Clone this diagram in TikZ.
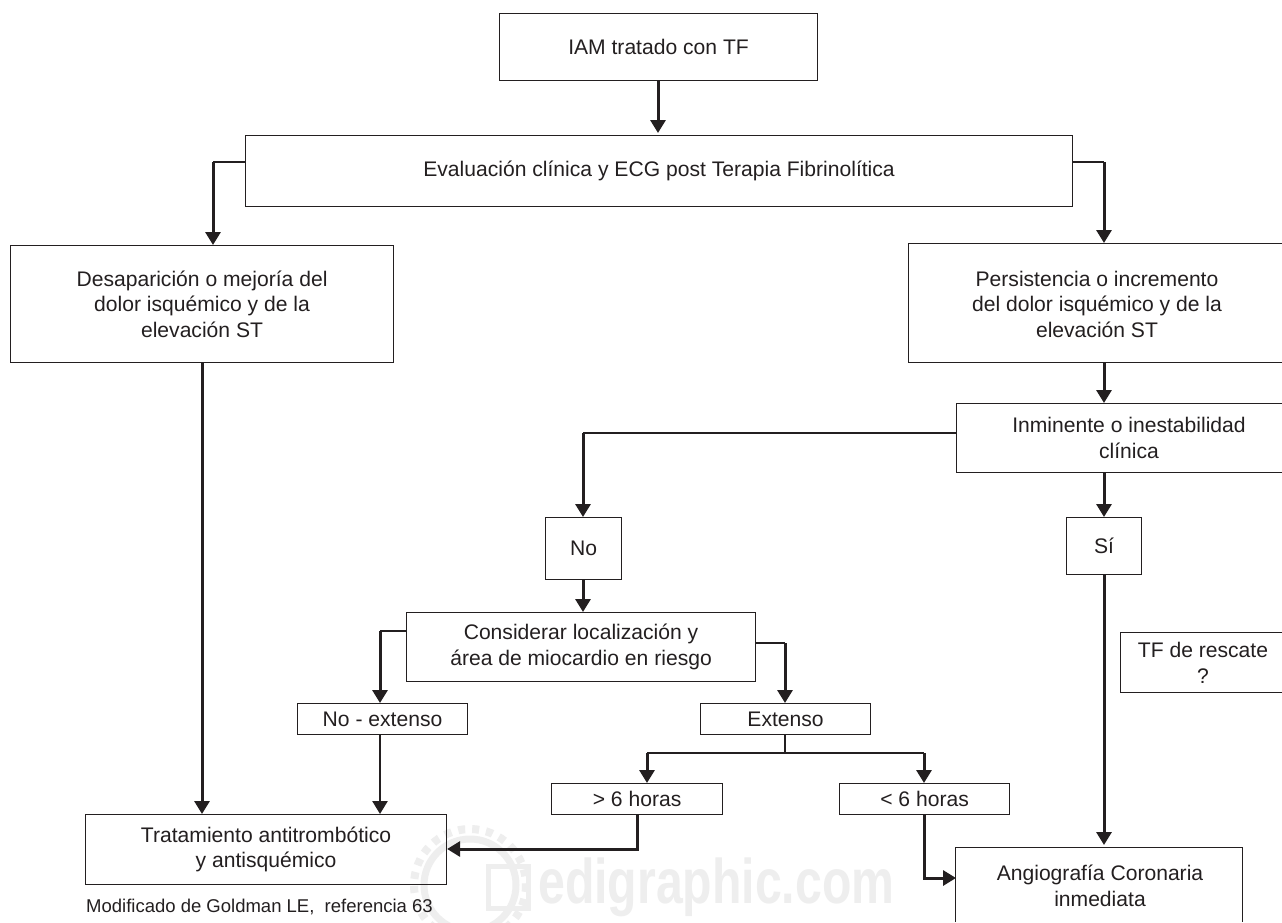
\documentclass[tikz,border=0pt]{standalone}
\usepackage{graphicx}
\usepackage{fontspec}
\setmainfont{Liberation Sans}
\usetikzlibrary{arrows.meta}
\definecolor{ink}{HTML}{231F20}
\definecolor{wm}{HTML}{EEEEEE}
\tikzset{
  x=1pt,y=-1pt,
  boxn/.style={draw=ink,line width=1.1pt,align=center,inner sep=0pt,text=ink,font=\fontsize{21.1}{25.5}\selectfont},
  txtn/.style={align=center,inner sep=0pt,text=ink,font=\fontsize{21.1}{25.5}\selectfont},
  openb/.style={draw=ink,line width=1.1pt},
  arr/.style={draw=ink,line width=3pt,-{Triangle[length=13pt,width=15pt]}},
  thinl/.style={draw=ink,line width=1.7pt},
}
\newcommand{\bx}[6]{\node[boxn,minimum width=#4-#2,minimum height=#5-#3,anchor=north west] (#1) at (#2,#3) {#6};}
\begin{document}
\begin{tikzpicture}
\useasboundingbox (0,0) rectangle (1282,922);
\fill[white] (0,0) rectangle (1282,922);
% watermark
\node[text=wm,font=\bfseries\fontsize{63}{63}\selectfont,anchor=base west,inner sep=0pt] (wmark) at (538,903) {\scalebox{0.765}[1]{edigraphic.com}};
\draw[wm,line width=7pt] (470,885) circle (46);
\draw[wm,line width=8pt,dash pattern=on 7pt off 7pt] (470,885) circle (56);
\draw[wm,line width=5pt] (488,866) rectangle (528,908);
% boxes
\bx{iam}{499}{13}{817}{80}{IAM tratado con TF}
\bx{eval}{245}{135}{1072}{206}{Evaluación clínica y ECG post Terapia Fibrinolítica}
\bx{des}{10}{245}{393}{362}{Desaparición o mejoría del\\dolor isquémico y de la\\elevación ST}
\coordinate (perN) at (1104,243); \coordinate (perS) at (1104,362);
\draw[openb] (1282,243.5) -- (908.5,243.5) -- (908.5,362.5) -- (1282,362.5);
\node[txtn] (per) at (1097,304) {Persistencia o incremento\\del dolor isquémico y de la\\elevación ST};
\coordinate (inmN) at (1104,403); \coordinate (inmS) at (1104,472); \coordinate (inmW) at (956,433);
\draw[openb] (1282,403.5) -- (956.5,403.5) -- (956.5,472.5) -- (1282,472.5);
\node[txtn] (inm) at (1129,438) {Inminente o inestabilidad\\clínica};
\bx{no}{545}{517}{621}{579}{No}
\bx{si}{1066}{517}{1141}{574}{Sí}
\bx{con}{406}{612}{755}{681}{Considerar localización y\\área de miocardio en riesgo}
\bx{nex}{297}{703}{467}{734}{No - extenso}
\bx{ext}{700}{703}{870}{734}{Extenso}
\bx{may}{551}{783}{722}{814}{> 6 horas}
\bx{men}{839}{783}{1009}{814}{< 6 horas}
\bx{tra}{85}{814}{446}{884}{Tratamiento antitrombótico\\y antisquémico}
\draw[openb] (1282,632.5) -- (1120.5,632.5) -- (1120.5,692.5) -- (1282,692.5);
\node[txtn] (tf) at (1203,663) {TF de rescate\\?};
\coordinate (angN) at (1104,845); \coordinate (angW) at (956,878);
\draw[openb] (955.5,922) -- (955.5,847.5) -- (1242.5,847.5) -- (1242.5,922);
\node[txtn] (ang) at (1100,886) {Angiografía Coronaria\\inmediata};
\node[text=ink,font=\fontsize{18.5}{20}\selectfont,anchor=west,inner sep=0pt] (cap) at (86,907) {Modificado de Goldman LE,~ referencia 63};
% connectors
\coordinate (a1) at (213,162); \coordinate (a2) at (1104,162);
\coordinate (b1) at (583,433);
\coordinate (c1) at (380,631); \coordinate (c2) at (785,643);
\coordinate (d0) at (785,753); \coordinate (d1) at (647,753); \coordinate (d2) at (924,753);
\coordinate (e1) at (637,849); \coordinate (e2) at (924,878);
\draw[arr] (iam.south -| 658,0) -- (658,133);
\draw[thinl] (eval.west |- a1) -- (a1);
\draw[arr] (a1) -- (des.north -| a1);
\draw[thinl] (eval.east |- a2) -- (a2);
\draw[arr] (a2) -- (perN);
\draw[arr] (perS) -- (inmN);
\draw[arr] (inmS) -- (si.north -| inmS);
\draw[arr] (si.south -| inmS) -- (angN);
\draw[thinl] (inmW) -- (b1);
\draw[arr] (b1) -- (no.north -| b1);
\draw[arr] (no.south -| b1) -- (con.north -| b1);
\draw[thinl] (con.west |- c1) -- (c1);
\draw[arr] (c1) -- (nex.north -| c1);
\draw[thinl] (con.east |- c2) -- (c2);
\draw[arr] (c2) -- (ext.north -| c2);
\draw[arr,line width=2.6pt] (nex.south -| c1) -- (tra.north -| c1);
\draw[arr] (des.south -| 202,0) -- (tra.north -| 202,0);
\draw[thinl] (ext.south -| d0) -- (d0);
\draw[thinl] (d1) -- (d2);
\draw[arr] (d1) -- (may.north -| d1);
\draw[arr] (d2) -- (men.north -| d2);
\draw[arr] (may.south -| e1) -- (e1) -- (tra.east |- e1);
\draw[arr] (men.south -| e2) -- (e2) -- (angW);
\end{tikzpicture}
\end{document}
